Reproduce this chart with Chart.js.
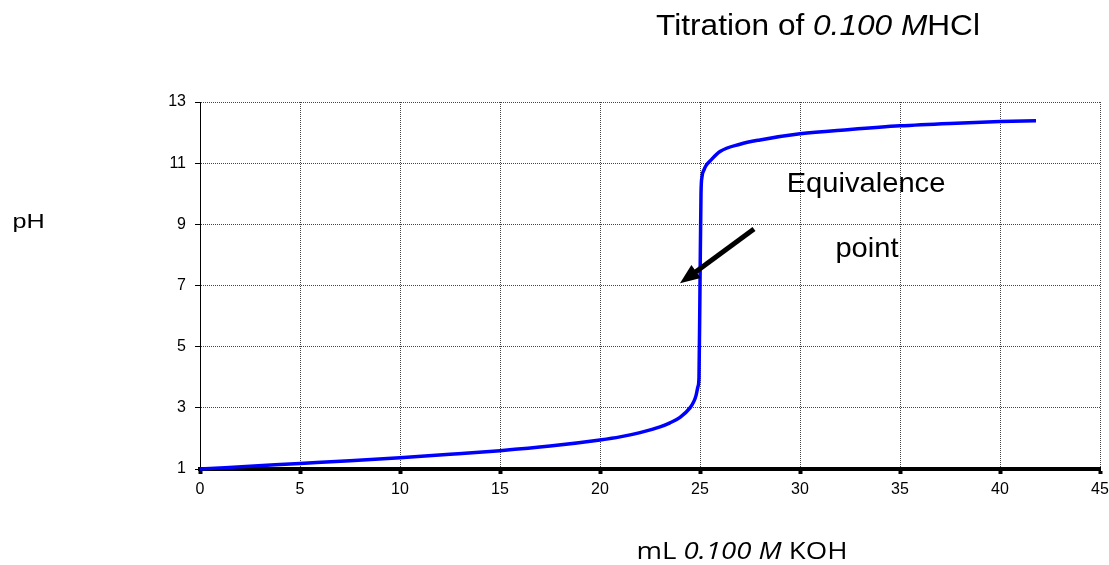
<!DOCTYPE html>
<html>
<head>
<meta charset="utf-8">
<title>Titration of 0.100 M HCl</title>
<script src="https://cdn.jsdelivr.net/npm/chart.js@4.4.1/dist/chart.umd.min.js"></script>
<style>
  html, body { margin: 0; padding: 0; background: #fff; }
  #wrap { position: relative; width: 1109px; height: 565px; }
</style>
</head>
<body>
<div id="wrap"><canvas id="titration" width="1109" height="565"></canvas></div>
<script>
/* --------------- Titration data (mL KOH added vs pH) --------------- */
const volumeML = [0, 2.5, 5, 7.5, 10, 12.5, 15, 17.5, 20, 21, 22, 23, 23.5, 24, 24.5, 24.7, 24.8, 24.9, 24.95,
  25, 25.05, 25.1, 25.2, 25.3, 25.5, 26, 27, 28, 30, 32.5, 35, 37.5, 40, 41.8];
const pHValues = [1.00, 1.09, 1.18, 1.27, 1.37, 1.48, 1.60, 1.75, 1.95, 2.05, 2.19, 2.38, 2.51, 2.69, 3.00, 3.22, 3.40, 3.70, 4.00,
  7.00, 10.00, 10.55, 10.78, 10.92, 11.07, 11.38, 11.62, 11.76, 11.96, 12.10, 12.22, 12.30, 12.36, 12.39];

/* --------------- Axis ticks --------------- */
const xTicks = [0, 5, 10, 15, 20, 25, 30, 35, 40, 45];
const yTicks = [1, 3, 5, 7, 9, 11, 13];

/* --------------- Captions --------------- */
const titleParts = [["Titration of ", false], ["0.100 M", true], ["HCl", false]];
const xTitleParts = [["mL ", false], ["0.100 M", true], [" KOH", false]];
const yTitle = "pH";
const noteLines = ["Equivalence", "point"];

const points = volumeML.map((v, i) => ({ x: v, y: pHValues[i] }));

// draws a line of text made of normal / italic pieces, centred on cx,
// optionally widened by sx (the old Excel captions render a bit wide)
function drawParts(ctx, parts, cx, cy, size, family, sx = 1) {
  const fontOf = (it) => (it ? "italic " : "") + size + "px " + family;
  let total = 0;
  parts.forEach(([t, it]) => { ctx.font = fontOf(it); total += ctx.measureText(t).width; });
  ctx.save();
  ctx.translate(cx, cy);
  ctx.scale(sx, 1);
  let x = -total / 2;
  ctx.textAlign = "left";
  ctx.textBaseline = "middle";
  parts.forEach(([t, it]) => {
    ctx.font = fontOf(it);
    ctx.fillText(t, x, 0);
    x += ctx.measureText(t).width;
  });
  ctx.restore();
}

/* --------------- Titles, note and arrow --------------- */
const decorations = {
  id: "decorations",
  afterDraw(chart) {
    const { ctx, scales } = chart;
    const sx = scales.x, sy = scales.y;
    const arial = "'Liberation Sans', Arial, sans-serif";
    ctx.save();
    ctx.fillStyle = "#000";
    drawParts(ctx, titleParts, 818, 27, 29, arial, 1.09);
    drawParts(ctx, xTitleParts, 742, 552, 23, "'Open Sans', Lato, sans-serif", 1.2);
    drawParts(ctx, [[yTitle, false]], 28.5, 222, 21, arial, 1.2);

    drawParts(ctx, [[noteLines[0], false]], sx.getPixelForValue(33.3), sy.getPixelForValue(10.3), 28, arial, 1.04);
    drawParts(ctx, [[noteLines[1], false]], sx.getPixelForValue(33.35), sy.getPixelForValue(8.17), 28, arial, 1.04);

    // arrow pointing at the equivalence point
    const x0 = sx.getPixelForValue(27.7), y0 = sy.getPixelForValue(8.85);
    const x1 = sx.getPixelForValue(24.0), y1 = sy.getPixelForValue(7.07);
    const ang = Math.atan2(y1 - y0, x1 - x0);
    const head = 20, half = 8;
    const bx = x1 - head * Math.cos(ang), by = y1 - head * Math.sin(ang);
    ctx.strokeStyle = "#000";
    ctx.lineWidth = 5;
    ctx.beginPath();
    ctx.moveTo(x0, y0);
    ctx.lineTo(bx + 2 * Math.cos(ang), by + 2 * Math.sin(ang));
    ctx.stroke();
    ctx.beginPath();
    ctx.moveTo(x1, y1);
    ctx.lineTo(bx + half * Math.sin(ang), by - half * Math.cos(ang));
    ctx.lineTo(bx - half * Math.sin(ang), by + half * Math.cos(ang));
    ctx.closePath();
    ctx.fill();
    ctx.restore();
  }
};

const tickFont = { family: "'Liberation Sans', Arial, sans-serif", size: 16 };

new Chart(document.getElementById("titration"), {
  type: "line",
  data: {
    datasets: [{
      data: points,
      borderColor: "#0000FF",
      borderWidth: 3.5,
      pointRadius: 0,
      cubicInterpolationMode: "monotone",
      fill: false,
      clip: false
    }]
  },
  plugins: [decorations],
  options: {
    responsive: false,
    animation: false,
    devicePixelRatio: 1,
    layout: { padding: { top: 102, right: 9, left: 0, bottom: 0 } },
    plugins: { legend: { display: false }, tooltip: { enabled: false }, title: { display: false } },
    scales: {
      x: {
        type: "linear",
        min: 0, max: 45,
        afterBuildTicks: (s) => { s.ticks = xTicks.map((v) => ({ value: v })); },
        afterFit: (s) => { s.height = 96; s.paddingLeft = 0; s.paddingRight = 0; },
        ticks: { color: "#000", font: tickFont, padding: 6, maxRotation: 0 },
        grid: { color: "#444", lineWidth: 1, tickColor: "#000", tickLength: 5, tickWidth: 4 },
        border: { color: "#000", width: 4, dash: [1, 1] }
      },
      y: {
        min: 1, max: 13,
        afterBuildTicks: (s) => { s.ticks = yTicks.map((v) => ({ value: v })); },
        afterFit: (s) => { s.width = 200; s.paddingTop = 0; s.paddingBottom = 0; },
        ticks: { color: "#000", font: tickFont, padding: 9 },
        grid: { color: "#444", lineWidth: 1, tickColor: "#000", tickLength: 5 },
        border: { color: "#000", width: 1, dash: [1, 1] }
      }
    }
  }
});
</script>
</body>
</html>
